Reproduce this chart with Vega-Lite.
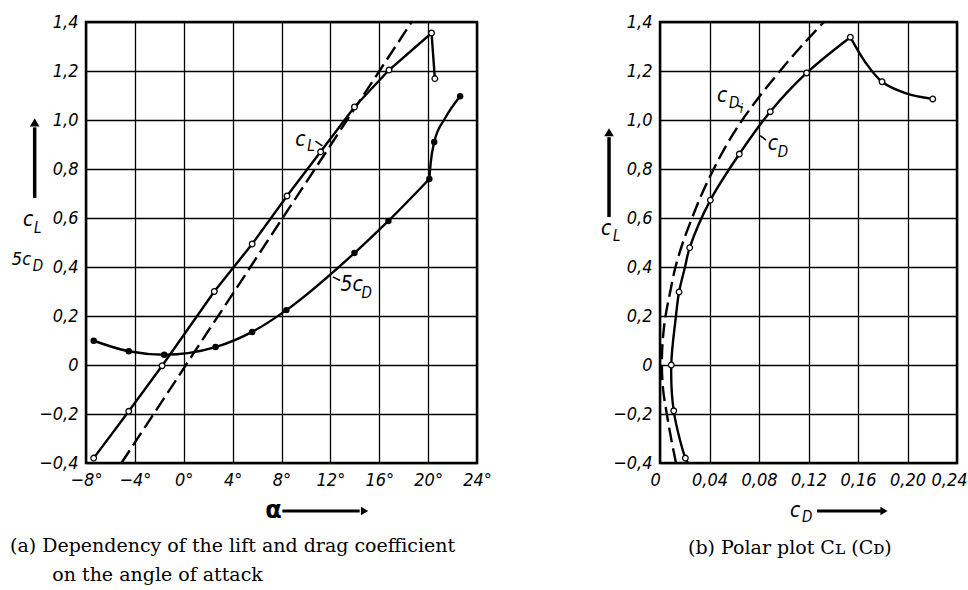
{
  "$schema": "https://vega.github.io/schema/vega-lite/v6.json",
  "background": "white",
  "padding": {"left": 8, "top": 11, "right": 5, "bottom": 5},
  "bounds": "flush",
  "spacing": 183,
  "datasets": {
    "one": [{}],
    "cl": [
      {"alpha": -7.37, "cl": -0.38}, {"alpha": -4.5, "cl": -0.189}, {"alpha": -1.77, "cl": -0.003},
      {"alpha": 2.5, "cl": 0.30}, {"alpha": 5.6, "cl": 0.494}, {"alpha": 8.45, "cl": 0.69},
      {"alpha": 11.2, "cl": 0.87}, {"alpha": 13.97, "cl": 1.053}, {"alpha": 16.8, "cl": 1.204},
      {"alpha": 20.28, "cl": 1.355}, {"alpha": 20.55, "cl": 1.169}
    ],
    "clTheory": [{"alpha": -5.1, "cl": -0.4}, {"alpha": 18.65, "cl": 1.4}],
    "cd5line": [
      {"seg": "a", "alpha": -7.37, "cl": 0.099}, {"seg": "a", "alpha": -4.5, "cl": 0.056},
      {"seg": "a", "alpha": -1.6, "cl": 0.042}, {"seg": "a", "alpha": 2.6, "cl": 0.073},
      {"seg": "a", "alpha": 5.6, "cl": 0.135}, {"seg": "a", "alpha": 8.4, "cl": 0.224},
      {"seg": "a", "alpha": 13.97, "cl": 0.457}, {"seg": "a", "alpha": 16.75, "cl": 0.588},
      {"seg": "a", "alpha": 20.1, "cl": 0.759},
      {"seg": "b", "alpha": 20.1, "cl": 0.759}, {"seg": "b", "alpha": 20.2, "cl": 0.82},
      {"seg": "b", "alpha": 20.5, "cl": 0.91}, {"seg": "b", "alpha": 21.4, "cl": 1.008},
      {"seg": "b", "alpha": 22.62, "cl": 1.097}
    ],
    "cd5dots": [
      {"alpha": -7.37, "cl": 0.099}, {"alpha": -4.5, "cl": 0.056}, {"alpha": -1.6, "cl": 0.042},
      {"alpha": 2.6, "cl": 0.073}, {"alpha": 5.6, "cl": 0.135}, {"alpha": 8.4, "cl": 0.224},
      {"alpha": 13.97, "cl": 0.457}, {"alpha": 16.75, "cl": 0.588}, {"alpha": 20.1, "cl": 0.759},
      {"alpha": 20.5, "cl": 0.91}, {"alpha": 22.62, "cl": 1.097}
    ],
    "cdi": [
      {"cl": -0.4, "cd": 0.0129}, {"cl": -0.3, "cd": 0.009}, {"cl": -0.2, "cd": 0.0055},
      {"cl": -0.1, "cd": 0.0025}, {"cl": 0.0, "cd": 0.0015}, {"cl": 0.1, "cd": 0.0022},
      {"cl": 0.2, "cd": 0.0045}, {"cl": 0.3, "cd": 0.0083}, {"cl": 0.4, "cd": 0.0125},
      {"cl": 0.5, "cd": 0.0185}, {"cl": 0.6, "cd": 0.0259}, {"cl": 0.7, "cd": 0.034},
      {"cl": 0.8, "cd": 0.0434}, {"cl": 0.9, "cd": 0.054}, {"cl": 1.0, "cd": 0.0665},
      {"cl": 1.1, "cd": 0.081}, {"cl": 1.2, "cd": 0.097}, {"cl": 1.3, "cd": 0.114},
      {"cl": 1.4, "cd": 0.1325}
    ],
    "polarLine": [
      {"seg": "a", "i": 1, "cd": 0.0226, "cl": -0.4}, {"seg": "a", "i": 2, "cd": 0.0205, "cl": -0.38},
      {"seg": "a", "i": 3, "cd": 0.0111, "cl": -0.187}, {"seg": "a", "i": 4, "cd": 0.0091, "cl": 0.0},
      {"seg": "a", "i": 5, "cd": 0.0129, "cl": 0.2}, {"seg": "a", "i": 6, "cd": 0.0154, "cl": 0.298},
      {"seg": "a", "i": 7, "cd": 0.0202, "cl": 0.4}, {"seg": "a", "i": 8, "cd": 0.024, "cl": 0.479},
      {"seg": "a", "i": 9, "cd": 0.0407, "cl": 0.673}, {"seg": "a", "i": 10, "cd": 0.0641, "cl": 0.861},
      {"seg": "a", "i": 11, "cd": 0.0891, "cl": 1.034}, {"seg": "a", "i": 12, "cd": 0.1185, "cl": 1.192},
      {"seg": "a", "i": 13, "cd": 0.1538, "cl": 1.338},
      {"seg": "b", "i": 14, "cd": 0.1538, "cl": 1.338}, {"seg": "b", "i": 15, "cd": 0.1659, "cl": 1.236},
      {"seg": "b", "i": 16, "cd": 0.1794, "cl": 1.156}, {"seg": "b", "i": 17, "cd": 0.1982, "cl": 1.11},
      {"seg": "b", "i": 18, "cd": 0.2204, "cl": 1.086}
    ],
    "polarPts": [
      {"cd": 0.0205, "cl": -0.38}, {"cd": 0.0111, "cl": -0.187}, {"cd": 0.0091, "cl": 0.0},
      {"cd": 0.0154, "cl": 0.298}, {"cd": 0.024, "cl": 0.479}, {"cd": 0.0407, "cl": 0.673},
      {"cd": 0.0641, "cl": 0.861}, {"cd": 0.0891, "cl": 1.034}, {"cd": 0.1185, "cl": 1.192},
      {"cd": 0.1538, "cl": 1.338}, {"cd": 0.1794, "cl": 1.156}, {"cd": 0.2204, "cl": 1.086}
    ]
  },
  "hconcat": [
    {
      "width": 391,
      "height": 441,
      "title": {
        "text": ["(a) Dependency of the lift and drag coefficient", "\u200d\u00a0\u00a0\u00a0\u00a0\u00a0\u00a0\u00a0on the angle of attack"],
        "orient": "bottom", "anchor": "start", "frame": "group", "dx": -76, "offset": 14,
        "font": "DejaVu Serif", "fontSize": 19, "fontWeight": "normal", "lineHeight": 29, "color": "black"
      },
      "layer": [
        {
          "data": {"name": "clTheory"},
          "mark": {"type": "line", "color": "black", "strokeWidth": 2.4, "strokeDash": [15, 6]},
          "encoding": {
            "x": {"field": "alpha", "type": "quantitative",
              "scale": {"domain": [-8, 24], "nice": false, "zero": false},
              "axis": {"values": [-8, -4, 0, 4, 8, 12, 16, 20, 24], "title": null,
                "labelExpr": "format(datum.value, 'd') + '°'"}},
            "y": {"field": "cl", "type": "quantitative",
              "scale": {"domain": [-0.4, 1.4], "nice": false, "zero": false},
              "axis": {"values": [-0.4, -0.2, 0, 0.2, 0.4, 0.6, 0.8, 1.0, 1.2, 1.4], "title": null,
                "labelExpr": "datum.value == 0 ? '0' : replace(format(datum.value, '.1f'), '.', ',')"}}
          }
        },
        {
          "data": {"name": "cl"},
          "mark": {"type": "line", "color": "black", "strokeWidth": 2.4},
          "encoding": {"x": {"field": "alpha", "type": "quantitative"}, "y": {"field": "cl", "type": "quantitative"}}
        },
        {
          "data": {"name": "cl"},
          "mark": {"type": "point", "shape": "circle", "filled": true, "fill": "white", "stroke": "black", "strokeWidth": 1.3, "size": 32, "opacity": 1},
          "encoding": {"x": {"field": "alpha", "type": "quantitative"}, "y": {"field": "cl", "type": "quantitative"}}
        },
        {
          "data": {"name": "cd5line"},
          "mark": {"type": "line", "color": "black", "strokeWidth": 2.4, "interpolate": "monotone"},
          "encoding": {"x": {"field": "alpha", "type": "quantitative"}, "y": {"field": "cl", "type": "quantitative"}, "detail": {"field": "seg"}}
        },
        {
          "data": {"name": "cd5dots"},
          "mark": {"type": "point", "shape": "circle", "filled": true, "color": "black", "size": 42, "opacity": 1},
          "encoding": {"x": {"field": "alpha", "type": "quantitative"}, "y": {"field": "cl", "type": "quantitative"}}
        },
        {
          "data": {"name": "one"},
          "mark": {"type": "text", "align": "left", "baseline": "middle", "font": "Liberation Sans Narrow, DejaVu Sans Condensed, Liberation Sans", "fontStyle": "italic", "fontSize": 21, "color": "black"},
          "encoding": {"x": {"datum": 9.13}, "y": {"datum": 0.918}, "text": {"value": "c"}}
        },
        {
          "data": {"name": "one"},
          "mark": {"type": "text", "align": "left", "baseline": "middle", "dx": 12, "dy": 6, "font": "Liberation Sans Narrow, DejaVu Sans Condensed, Liberation Sans", "fontStyle": "italic", "fontSize": 15, "color": "black"},
          "encoding": {"x": {"datum": 9.13}, "y": {"datum": 0.918}, "text": {"value": "L"}}
        },
        {
          "data": {"name": "one"},
          "mark": {"type": "rule", "color": "black", "strokeWidth": 1.5},
          "encoding": {"x": {"datum": 10.77}, "x2": {"datum": 11.35}, "y": {"datum": 0.914}, "y2": {"datum": 0.894}}
        },
        {
          "data": {"name": "one"},
          "mark": {"type": "text", "align": "left", "baseline": "middle", "font": "Liberation Sans Narrow, DejaVu Sans Condensed, Liberation Sans", "fontStyle": "italic", "fontSize": 21, "color": "black"},
          "encoding": {"x": {"datum": 12.82}, "y": {"datum": 0.327}, "text": {"value": "5c"}}
        },
        {
          "data": {"name": "one"},
          "mark": {"type": "text", "align": "left", "baseline": "middle", "dx": 21, "dy": 8, "font": "Liberation Sans Narrow, DejaVu Sans Condensed, Liberation Sans", "fontStyle": "italic", "fontSize": 15, "color": "black"},
          "encoding": {"x": {"datum": 12.82}, "y": {"datum": 0.327}, "text": {"value": "D"}}
        },
        {
          "data": {"name": "one"},
          "mark": {"type": "rule", "color": "black", "strokeWidth": 1.5},
          "encoding": {"x": {"datum": 12.2}, "x2": {"datum": 12.8}, "y": {"datum": 0.36}, "y2": {"datum": 0.345}}
        },
        {
          "data": {"name": "one"},
          "mark": {"type": "rule", "color": "black", "strokeWidth": 3.5},
          "encoding": {"x": {"datum": -12.2}, "y": {"datum": 0.682}, "y2": {"datum": 0.97}}
        },
        {
          "data": {"name": "one"},
          "mark": {"type": "point", "shape": "triangle-up", "filled": true, "color": "black", "size": 90, "opacity": 1},
          "encoding": {"x": {"datum": -12.2}, "y": {"datum": 0.99}}
        },
        {
          "data": {"name": "one"},
          "mark": {"type": "text", "align": "left", "baseline": "middle", "font": "Liberation Sans Narrow, DejaVu Sans Condensed, Liberation Sans", "fontStyle": "italic", "fontSize": 21, "color": "black"},
          "encoding": {"x": {"datum": -13.16}, "y": {"datum": 0.592}, "text": {"value": "c"}}
        },
        {
          "data": {"name": "one"},
          "mark": {"type": "text", "align": "left", "baseline": "middle", "dx": 11, "dy": 8, "font": "Liberation Sans Narrow, DejaVu Sans Condensed, Liberation Sans", "fontStyle": "italic", "fontSize": 15, "color": "black"},
          "encoding": {"x": {"datum": -13.16}, "y": {"datum": 0.592}, "text": {"value": "L"}}
        },
        {
          "data": {"name": "one"},
          "mark": {"type": "text", "align": "left", "baseline": "middle", "font": "Liberation Sans Narrow, DejaVu Sans Condensed, Liberation Sans", "fontStyle": "italic", "fontSize": 18, "color": "black"},
          "encoding": {"x": {"datum": -14.07}, "y": {"datum": 0.429}, "text": {"value": "5c"}}
        },
        {
          "data": {"name": "one"},
          "mark": {"type": "text", "align": "left", "baseline": "middle", "dx": 21, "dy": 6, "font": "Liberation Sans Narrow, DejaVu Sans Condensed, Liberation Sans", "fontStyle": "italic", "fontSize": 15, "color": "black"},
          "encoding": {"x": {"datum": -14.07}, "y": {"datum": 0.429}, "text": {"value": "D"}}
        },
        {
          "data": {"name": "one"},
          "mark": {"type": "text", "align": "left", "baseline": "middle", "font": "DejaVu Sans", "fontWeight": "bold", "fontSize": 24, "color": "black"},
          "encoding": {"x": {"datum": 6.67}, "y": {"datum": -0.596}, "text": {"value": "α"}}
        },
        {
          "data": {"name": "one"},
          "mark": {"type": "rule", "color": "black", "strokeWidth": 3},
          "encoding": {"x": {"datum": 8.07}, "x2": {"datum": 14.4}, "y": {"datum": -0.596}}
        },
        {
          "data": {"name": "one"},
          "mark": {"type": "point", "shape": "triangle-right", "filled": true, "color": "black", "size": 70, "opacity": 1},
          "encoding": {"x": {"datum": 14.8}, "y": {"datum": -0.596}}
        }
      ]
    },
    {
      "width": 297,
      "height": 441,
      "title": {
        "text": "(b) Polar plot C\u029f (C\u1d05)",
        "orient": "bottom", "anchor": "start", "frame": "group", "dx": 28, "offset": 14,
        "font": "DejaVu Serif", "fontSize": 19, "fontWeight": "normal", "color": "black"
      },
      "layer": [
        {
          "data": {"name": "cdi"},
          "mark": {"type": "line", "color": "black", "strokeWidth": 2.4, "strokeDash": [15, 6], "interpolate": "catmull-rom"},
          "encoding": {
            "x": {"field": "cd", "type": "quantitative",
              "scale": {"domain": [0, 0.24], "nice": false, "zero": false},
              "axis": {"values": [0, 0.04, 0.08, 0.12, 0.16, 0.2, 0.24], "title": null,
                "labelFlush": true, "labelFlushOffset": 10,
                "labelExpr": "datum.value == 0 ? '0' : replace(format(datum.value, '.2f'), '.', ',')"}},
            "y": {"field": "cl", "type": "quantitative",
              "scale": {"domain": [-0.4, 1.4], "nice": false, "zero": false},
              "axis": {"values": [-0.4, -0.2, 0, 0.2, 0.4, 0.6, 0.8, 1.0, 1.2, 1.4], "title": null,
                "labelExpr": "datum.value == 0 ? '0' : replace(format(datum.value, '.1f'), '.', ',')"}},
            "order": {"field": "cl", "type": "quantitative"}
          }
        },
        {
          "data": {"name": "polarLine"},
          "mark": {"type": "line", "color": "black", "strokeWidth": 2.4, "interpolate": "catmull-rom"},
          "encoding": {"x": {"field": "cd", "type": "quantitative"}, "y": {"field": "cl", "type": "quantitative"}, "detail": {"field": "seg"}, "order": {"field": "i", "type": "quantitative"}}
        },
        {
          "data": {"name": "polarPts"},
          "mark": {"type": "point", "shape": "circle", "filled": true, "fill": "white", "stroke": "black", "strokeWidth": 1.3, "size": 32, "opacity": 1},
          "encoding": {"x": {"field": "cd", "type": "quantitative"}, "y": {"field": "cl", "type": "quantitative"}}
        },
        {
          "data": {"name": "one"},
          "mark": {"type": "text", "align": "left", "baseline": "middle", "font": "Liberation Sans Narrow, DejaVu Sans Condensed, Liberation Sans", "fontStyle": "italic", "fontSize": 21, "color": "black"},
          "encoding": {"x": {"datum": 0.0461}, "y": {"datum": 1.1}, "text": {"value": "c"}}
        },
        {
          "data": {"name": "one"},
          "mark": {"type": "text", "align": "left", "baseline": "middle", "dx": 12, "dy": 7, "font": "Liberation Sans Narrow, DejaVu Sans Condensed, Liberation Sans", "fontStyle": "italic", "fontSize": 15, "color": "black"},
          "encoding": {"x": {"datum": 0.0461}, "y": {"datum": 1.1}, "text": {"value": "D"}}
        },
        {
          "data": {"name": "one"},
          "mark": {"type": "text", "align": "left", "baseline": "middle", "dx": 23, "dy": 13, "font": "Liberation Sans Narrow, DejaVu Sans Condensed, Liberation Sans", "fontStyle": "italic", "fontSize": 12, "color": "black"},
          "encoding": {"x": {"datum": 0.0461}, "y": {"datum": 1.1}, "text": {"value": "i"}}
        },
        {
          "data": {"name": "one"},
          "mark": {"type": "rule", "color": "black", "strokeWidth": 1.5},
          "encoding": {"x": {"datum": 0.0625}, "x2": {"datum": 0.0668}, "y": {"datum": 1.06}, "y2": {"datum": 1.05}}
        },
        {
          "data": {"name": "one"},
          "mark": {"type": "text", "align": "left", "baseline": "middle", "font": "Liberation Sans Narrow, DejaVu Sans Condensed, Liberation Sans", "fontStyle": "italic", "fontSize": 21, "color": "black"},
          "encoding": {"x": {"datum": 0.087}, "y": {"datum": 0.902}, "text": {"value": "c"}}
        },
        {
          "data": {"name": "one"},
          "mark": {"type": "text", "align": "left", "baseline": "middle", "dx": 10, "dy": 8, "font": "Liberation Sans Narrow, DejaVu Sans Condensed, Liberation Sans", "fontStyle": "italic", "fontSize": 15, "color": "black"},
          "encoding": {"x": {"datum": 0.087}, "y": {"datum": 0.902}, "text": {"value": "D"}}
        },
        {
          "data": {"name": "one"},
          "mark": {"type": "rule", "color": "black", "strokeWidth": 1.5},
          "encoding": {"x": {"datum": 0.081}, "x2": {"datum": 0.0857}, "y": {"datum": 0.936}, "y2": {"datum": 0.918}}
        },
        {
          "data": {"name": "one"},
          "mark": {"type": "rule", "color": "black", "strokeWidth": 3.5},
          "encoding": {"x": {"datum": -0.0412}, "y": {"datum": 0.604}, "y2": {"datum": 0.93}}
        },
        {
          "data": {"name": "one"},
          "mark": {"type": "point", "shape": "triangle-up", "filled": true, "color": "black", "size": 90, "opacity": 1},
          "encoding": {"x": {"datum": -0.0412}, "y": {"datum": 0.95}}
        },
        {
          "data": {"name": "one"},
          "mark": {"type": "text", "align": "left", "baseline": "middle", "font": "Liberation Sans Narrow, DejaVu Sans Condensed, Liberation Sans", "fontStyle": "italic", "fontSize": 21, "color": "black"},
          "encoding": {"x": {"datum": -0.0477}, "y": {"datum": 0.555}, "text": {"value": "c"}}
        },
        {
          "data": {"name": "one"},
          "mark": {"type": "text", "align": "left", "baseline": "middle", "dx": 12, "dy": 7, "font": "Liberation Sans Narrow, DejaVu Sans Condensed, Liberation Sans", "fontStyle": "italic", "fontSize": 15, "color": "black"},
          "encoding": {"x": {"datum": -0.0477}, "y": {"datum": 0.555}, "text": {"value": "L"}}
        },
        {
          "data": {"name": "one"},
          "mark": {"type": "text", "align": "left", "baseline": "middle", "font": "Liberation Sans Narrow, DejaVu Sans Condensed, Liberation Sans", "fontStyle": "italic", "fontSize": 21, "color": "black"},
          "encoding": {"x": {"datum": 0.105}, "y": {"datum": -0.596}, "text": {"value": "c"}}
        },
        {
          "data": {"name": "one"},
          "mark": {"type": "text", "align": "left", "baseline": "middle", "dx": 12, "dy": 6, "font": "Liberation Sans Narrow, DejaVu Sans Condensed, Liberation Sans", "fontStyle": "italic", "fontSize": 15, "color": "black"},
          "encoding": {"x": {"datum": 0.105}, "y": {"datum": -0.596}, "text": {"value": "D"}}
        },
        {
          "data": {"name": "one"},
          "mark": {"type": "rule", "color": "black", "strokeWidth": 3},
          "encoding": {"x": {"datum": 0.1269}, "x2": {"datum": 0.1785}, "y": {"datum": -0.596}}
        },
        {
          "data": {"name": "one"},
          "mark": {"type": "point", "shape": "triangle-right", "filled": true, "color": "black", "size": 70, "opacity": 1},
          "encoding": {"x": {"datum": 0.181}, "y": {"datum": -0.596}}
        }
      ]
    }
  ],
  "config": {
    "view": {"stroke": "black", "strokeWidth": 2.5},
    "axis": {
      "grid": true, "gridColor": "black", "gridWidth": 1.3, "gridOpacity": 1,
      "domain": false, "ticks": false,
      "labelFont": "Liberation Sans Narrow, DejaVu Sans Condensed, Liberation Sans",
      "labelFontStyle": "italic", "labelFontSize": 18, "labelColor": "black",
      "labelPadding": 8, "labelFlush": false, "labelOverlap": false
    },
    "title": {"color": "black"}
  }
}
